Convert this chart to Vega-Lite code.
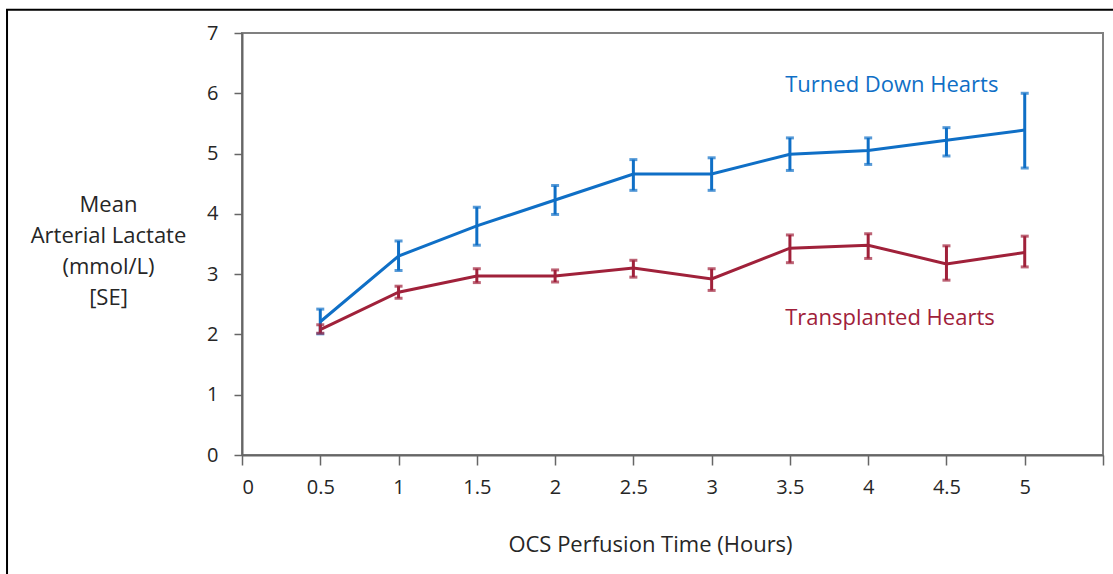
{
  "$schema": "https://vega.github.io/schema/vega-lite/v6.json",
  "width": 861,
  "height": 422,
  "autosize": {"type": "none"},
  "padding": {"left": 242, "top": 33, "right": 10, "bottom": 119},
  "background": "white",
  "config": {
    "font": "Open Sans",
    "view": {"stroke": "#808080", "strokeWidth": 2},
    "axis": {
      "grid": false,
      "domainColor": "#666666",
      "domainWidth": 2,
      "tickColor": "#666666",
      "tickWidth": 1.5,
      "labelFont": "Open Sans",
      "labelFontSize": 20,
      "labelColor": "#262626",
      "titleFont": "Open Sans",
      "titleFontSize": 22,
      "titleFontWeight": "normal",
      "titleColor": "#262626"
    }
  },
  "datasets": {
    "series": [
      {"t": 0.5, "series": "Turned Down Hearts", "mean": 2.21, "lo": 2.01, "hi": 2.42},
      {"t": 1.0, "series": "Turned Down Hearts", "mean": 3.30, "lo": 3.06, "hi": 3.55},
      {"t": 1.5, "series": "Turned Down Hearts", "mean": 3.80, "lo": 3.48, "hi": 4.11},
      {"t": 2.0, "series": "Turned Down Hearts", "mean": 4.23, "lo": 3.99, "hi": 4.47},
      {"t": 2.5, "series": "Turned Down Hearts", "mean": 4.66, "lo": 4.39, "hi": 4.90},
      {"t": 3.0, "series": "Turned Down Hearts", "mean": 4.66, "lo": 4.39, "hi": 4.93},
      {"t": 3.5, "series": "Turned Down Hearts", "mean": 4.99, "lo": 4.72, "hi": 5.26},
      {"t": 4.0, "series": "Turned Down Hearts", "mean": 5.05, "lo": 4.82, "hi": 5.26},
      {"t": 4.5, "series": "Turned Down Hearts", "mean": 5.22, "lo": 4.96, "hi": 5.43},
      {"t": 5.0, "series": "Turned Down Hearts", "mean": 5.39, "lo": 4.76, "hi": 6.00},
      {"t": 0.5, "series": "Transplanted Hearts", "mean": 2.08, "lo": 2.02, "hi": 2.16},
      {"t": 1.0, "series": "Transplanted Hearts", "mean": 2.70, "lo": 2.60, "hi": 2.80},
      {"t": 1.5, "series": "Transplanted Hearts", "mean": 2.97, "lo": 2.86, "hi": 3.09},
      {"t": 2.0, "series": "Transplanted Hearts", "mean": 2.97, "lo": 2.87, "hi": 3.07},
      {"t": 2.5, "series": "Transplanted Hearts", "mean": 3.10, "lo": 2.95, "hi": 3.23},
      {"t": 3.0, "series": "Transplanted Hearts", "mean": 2.92, "lo": 2.73, "hi": 3.09},
      {"t": 3.5, "series": "Transplanted Hearts", "mean": 3.43, "lo": 3.19, "hi": 3.65},
      {"t": 4.0, "series": "Transplanted Hearts", "mean": 3.48, "lo": 3.26, "hi": 3.67},
      {"t": 4.5, "series": "Transplanted Hearts", "mean": 3.17, "lo": 2.90, "hi": 3.47},
      {"t": 5.0, "series": "Transplanted Hearts", "mean": 3.36, "lo": 3.12, "hi": 3.63}
    ],
    "labels": [
      {"label": "Turned Down Hearts", "lx": 3.47, "ly": 6.14},
      {"label": "Transplanted Hearts", "lx": 3.47, "ly": 2.28}
    ],
    "frame": [{"x0": -1.501, "x1": 5.9, "y0": 7.385, "y1": -2.3}]
  },
  "layer": [
    {
      "data": {"name": "frame"},
      "mark": {"type": "rect", "fill": null, "fillOpacity": 0, "stroke": "#000000", "strokeWidth": 2, "clip": false},
      "encoding": {
        "x": {"field": "x0", "type": "quantitative", "scale": {"domain": [0, 5.5], "nice": false, "zero": false}, "axis": {
          "title": "OCS Perfusion Time (Hours)",
          "values": [0, 0.5, 1, 1.5, 2, 2.5, 3, 3.5, 4, 4.5, 5, 5.5],
          "labelExpr": "datum.value == 5.5 ? '' : format(datum.value, '~g')",
          "tickSize": 10,
          "labelPadding": 12,
          "titleX": 408,
          "titleY": 89,
          "titleBaseline": "middle",
          "titleAlign": "center",
          "titleAnchor": null
        }},
        "x2": {"field": "x1"},
        "y": {"field": "y0", "type": "quantitative", "scale": {"domain": [0, 7], "nice": false, "zero": false}, "axis": {
          "title": ["Mean", "Arterial Lactate", "(mmol/L)", "[SE]"],
          "values": [0, 1, 2, 3, 4, 5, 6, 7],
          "format": "~g",
          "tickSize": 8,
          "labelPadding": 16,
          "titleAngle": 0,
          "titleAlign": "center",
          "titleBaseline": "middle",
          "titleLineHeight": 31.3,
          "titleX": -134,
          "titleY": 171
        }},
        "y2": {"field": "y1"}
      }
    },
    {
      "data": {"name": "series"},
      "mark": {"type": "line", "strokeWidth": 3},
      "encoding": {
        "x": {"field": "t", "type": "quantitative"},
        "y": {"field": "mean", "type": "quantitative"},
        "color": {"field": "series", "type": "nominal", "scale": {"domain": ["Turned Down Hearts", "Transplanted Hearts"], "range": ["#0F6FC6", "#A0213A"]}, "legend": null}
      }
    },
    {
      "data": {"name": "series"},
      "mark": {"type": "rule", "strokeWidth": 3},
      "encoding": {
        "x": {"field": "t", "type": "quantitative"},
        "y": {"field": "lo", "type": "quantitative"},
        "y2": {"field": "hi"},
        "color": {"field": "series", "type": "nominal", "legend": null}
      }
    },
    {
      "data": {"name": "series"},
      "mark": {"type": "tick", "orient": "horizontal", "size": 8, "thickness": 3},
      "encoding": {
        "x": {"field": "t", "type": "quantitative"},
        "y": {"field": "lo", "type": "quantitative"},
        "color": {"field": "series", "type": "nominal", "legend": null}
      }
    },
    {
      "data": {"name": "series"},
      "mark": {"type": "tick", "orient": "horizontal", "size": 8, "thickness": 3},
      "encoding": {
        "x": {"field": "t", "type": "quantitative"},
        "y": {"field": "hi", "type": "quantitative"},
        "color": {"field": "series", "type": "nominal", "legend": null}
      }
    },
    {
      "data": {"name": "labels"},
      "mark": {"type": "text", "align": "left", "baseline": "middle", "fontSize": 22, "font": "Open Sans"},
      "encoding": {
        "x": {"field": "lx", "type": "quantitative"},
        "y": {"field": "ly", "type": "quantitative"},
        "text": {"field": "label"},
        "color": {"field": "label", "type": "nominal", "scale": {"domain": ["Turned Down Hearts", "Transplanted Hearts"], "range": ["#0F6FC6", "#A0213A"]}, "legend": null}
      }
    }
  ]
}
